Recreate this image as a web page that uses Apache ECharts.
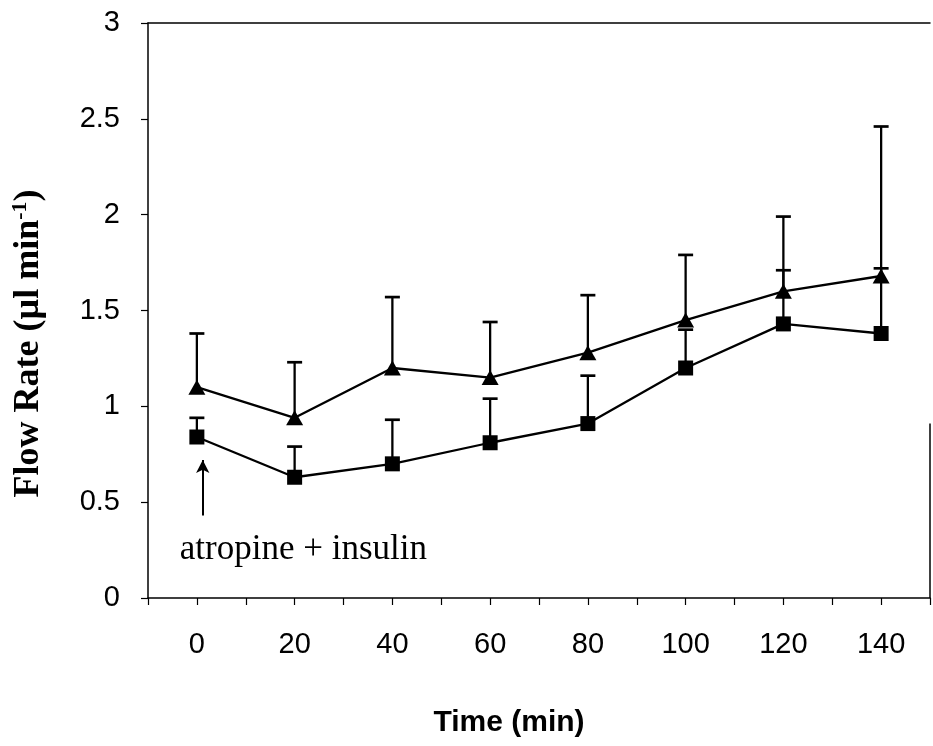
<!DOCTYPE html>
<html>
<head>
<meta charset="utf-8">
<script src="https://cdn.jsdelivr.net/npm/echarts@6/dist/echarts.min.js"></script>
<style>
html,body{margin:0;padding:0;background:#fff;}
#chart{width:933px;height:746px;}
</style>
</head>
<body>
<div id="chart"></div>
<script>
// ---- data ----
var times = [0, 20, 40, 60, 80, 100, 120, 140];
var triMean  = [1.10, 0.94, 1.20, 1.15, 1.28, 1.45, 1.60, 1.68];
var triUpper = [1.38, 1.23, 1.57, 1.44, 1.58, 1.79, 1.99, 2.46];
var sqMean   = [0.84, 0.63, 0.70, 0.81, 0.91, 1.20, 1.43, 1.38];
var sqUpper  = [0.94, 0.79, 0.93, 1.04, 1.16, 1.40, 1.71, 1.72];
var yTicks = [0, 0.5, 1, 1.5, 2, 2.5, 3];
var annotationText = 'atropine + insulin';
var arrowFrom = [1.2, 0.43];
var arrowTo = [1.2, 0.72];

function pairs(xs, ys) { return xs.map(function (x, i) { return [x, ys[i]]; }); }
function errData(xs, ys, up) { return xs.map(function (x, i) { return [x, ys[i], up[i]]; }); }

function errRender(params, api) {
  var x = api.value(0);
  var p0 = api.coord([x, api.value(1)]);
  var p1 = api.coord([x, api.value(2)]);
  var hw = 7.5;
  return {
    type: 'group',
    children: [
      { type: 'line', shape: { x1: p0[0], y1: p0[1], x2: p1[0], y2: p1[1] }, style: { stroke: '#000', lineWidth: 2.3 } },
      { type: 'line', shape: { x1: p1[0] - hw, y1: p1[1], x2: p1[0] + hw, y2: p1[1] }, style: { stroke: '#000', lineWidth: 2.7 } }
    ]
  };
}

var chart = echarts.init(document.getElementById('chart'), null, { renderer: 'canvas' });
var axisFont = 'Liberation Sans, Arial, sans-serif';
var serif = 'Liberation Serif, Times New Roman, serif';

chart.setOption({
  backgroundColor: '#fff',
  animation: false,
  grid: { left: 148, right: 1, top: 23, bottom: 148 },
  xAxis: [{
    type: 'value', min: -10, max: 150, interval: 10,
    axisLine: { show: true, onZero: false, lineStyle: { color: '#000', width: 1.5 } },
    axisTick: { show: true, inside: false, length: 7, lineStyle: { color: '#000', width: 1.2 } },
    axisLabel: {
      color: '#000', fontFamily: axisFont, fontSize: 29, margin: 32,
      formatter: function (v) { return (v % 20 === 0) ? String(v) : ''; }
    },
    splitLine: { show: false },
    name: 'Time (min)', nameLocation: 'middle', nameGap: 110,
    nameTextStyle: { color: '#000', fontFamily: axisFont, fontSize: 30, fontWeight: 'bold', padding: [0, 60, 0, 0] }
  }, {
    type: 'value', min: -10, max: 150, position: 'top',
    axisLine: { show: true, onZero: false, lineStyle: { color: '#000', width: 1.5 } },
    axisTick: { show: false }, axisLabel: { show: false }, splitLine: { show: false }
  }],
  yAxis: {
    type: 'value', min: yTicks[0], max: yTicks[yTicks.length - 1], interval: 0.5,
    axisLine: { show: true, onZero: false, lineStyle: { color: '#000', width: 1.5 } },
    axisTick: { show: true, inside: false, length: 7, lineStyle: { color: '#000', width: 1.2 } },
    axisLabel: { color: '#000', fontFamily: axisFont, fontSize: 29, margin: 28 },
    splitLine: { show: false },
    name: '{a|Flow Rate (µl min}{s|-1}{a|)}', nameLocation: 'middle', nameGap: 100,
    nameTextStyle: {
      color: '#000', padding: [0, 66, 0, 0],
      rich: {
        a: { fontFamily: serif, fontSize: 36, fontWeight: 'bold', color: '#000' },
        s: { fontFamily: serif, fontSize: 22, fontWeight: 'bold', color: '#000', padding: [0, 0, 17, 0] }
      }
    }
  },
  series: [
    {
      type: 'custom', name: 'triErr', renderItem: errRender, z: 2,
      encode: { x: 0, y: [1, 2] }, data: errData(times, triMean, triUpper)
    },
    {
      type: 'custom', name: 'sqErr', renderItem: errRender, z: 2,
      encode: { x: 0, y: [1, 2] }, data: errData(times, sqMean, sqUpper)
    },
    {
      type: 'line', name: 'triangle', data: pairs(times, triMean), z: 3,
      symbol: 'triangle', symbolSize: [17, 15], showSymbol: true,
      lineStyle: { color: '#000', width: 2.3 }, itemStyle: { color: '#000', borderWidth: 0 }
    },
    {
      type: 'line', name: 'square', data: pairs(times, sqMean), z: 3,
      symbol: 'rect', symbolSize: 15, showSymbol: true,
      lineStyle: { color: '#000', width: 2.3 }, itemStyle: { color: '#000', borderWidth: 0 },
      markLine: {
        silent: true, animation: false,
        symbol: ['none', 'none'], symbolSize: [10, 13],
        label: { show: false },
        lineStyle: { color: '#000', width: 2, type: 'solid' },
        data: [
          [{ coord: arrowFrom, symbol: 'none' }, { coord: arrowTo, symbol: 'arrow' }],
          [{ coord: [150, 0], symbol: 'none', lineStyle: { width: 1.5 } }, { coord: [150, 0.91], symbol: 'none' }]
        ]
      },
      markPoint: {
        silent: true, symbol: 'circle', symbolSize: 0,
        data: [{ coord: [-3.5, 0.25], value: annotationText }],
        label: {
          show: true, position: 'right', distance: 0, formatter: '{c}',
          color: '#000', fontFamily: serif, fontSize: 35
        }
      }
    }
  ]
});
</script>
</body>
</html>
